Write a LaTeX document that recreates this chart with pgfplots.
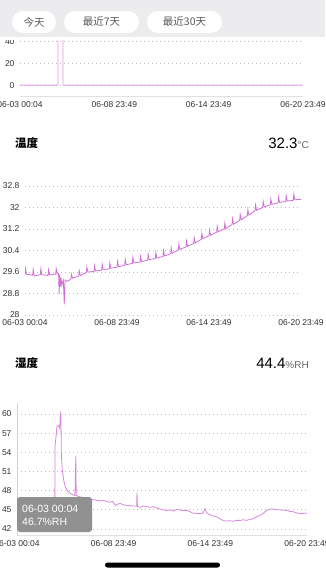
\documentclass[border=0pt]{standalone}
\usepackage{pgfplots}
\pgfplotsset{compat=1.18}
\usepackage{fontspec}
\setmainfont{Liberation Sans}
\newfontfamily\cjk{Noto Sans CJK SC}
\definecolor{hdr}{RGB}{236,236,238}
\definecolor{lineA}{RGB}{222,160,226}
\definecolor{lineB}{RGB}{210,110,215}
\definecolor{lineC}{RGB}{216,135,221}
\definecolor{gridc}{RGB}{185,185,185}
\definecolor{axc}{RGB}{225,225,225}
\definecolor{tickc}{RGB}{50,50,50}
\definecolor{tipc}{RGB}{140,140,140}
\definecolor{crossc}{RGB}{185,222,226}

\pgfplotstableread{
x y
0.00 0
4.83 0
4.85 200
5.45 200
5.47 0
36.00 0
}\tabA

\pgfplotstableread{
x y
0.00 29.50
0.07 29.72
0.20 29.52
1.00 29.48
1.07 29.70
1.20 29.45
2.00 29.50
2.07 29.72
2.20 29.50
3.00 29.47
3.07 29.68
3.20 29.49
4.00 29.52
4.07 29.72
4.20 29.54
4.38 29.55
4.45 28.80
4.52 29.50
4.60 29.05
4.70 29.40
4.80 29.10
5.00 29.30
5.12 28.40
5.22 29.30
5.50 29.25
5.80 29.30
6.00 29.35
6.07 29.52
6.20 29.37
7.00 29.45
7.07 29.65
7.20 29.47
8.00 29.58
8.07 29.78
8.20 29.60
9.00 29.62
9.07 29.84
9.20 29.64
10.00 29.67
10.07 29.89
10.20 29.69
11.00 29.72
11.07 29.94
11.20 29.74
12.00 29.78
12.07 30.00
12.20 29.80
13.00 29.85
13.07 30.07
13.20 29.87
14.00 29.92
14.07 30.14
14.20 29.94
15.00 29.97
15.07 30.19
15.20 29.99
16.00 30.04
16.07 30.26
16.20 30.06
17.00 30.10
17.07 30.32
17.20 30.12
18.00 30.18
18.07 30.40
18.20 30.20
19.00 30.28
19.07 30.50
19.20 30.30
20.00 30.42
20.07 30.64
20.20 30.44
21.00 30.54
21.07 30.76
21.20 30.56
22.00 30.66
22.07 30.88
22.20 30.68
23.00 30.82
23.07 31.04
23.20 30.84
24.00 30.95
24.07 31.17
24.20 30.97
25.00 31.08
25.07 31.30
25.20 31.10
26.00 31.20
26.07 31.42
26.20 31.22
27.00 31.36
27.07 31.58
27.20 31.38
28.00 31.52
28.07 31.74
28.20 31.54
29.00 31.70
29.07 31.92
29.20 31.72
30.00 31.88
30.07 32.10
30.20 31.90
31.00 32.00
31.07 32.22
31.20 32.02
32.00 32.10
32.07 32.32
32.20 32.12
33.00 32.17
33.07 32.39
33.20 32.19
34.00 32.22
34.07 32.44
34.20 32.24
35.00 32.27
35.07 32.49
35.20 32.29
36.00 32.30
}\tabB

\pgfplotstableread{
x y
0.00 46.70
0.30 46.50
0.60 46.60
0.90 46.30
1.00 46.60
1.50 46.50
1.90 46.20
2.00 46.50
2.60 46.40
3.00 46.20
3.10 46.45
3.80 46.30
4.20 46.40
4.60 46.45
4.70 46.30
4.72 55.00
4.85 56.50
4.95 58.00
5.20 58.20
5.30 57.80
5.40 60.00
5.46 59.50
5.50 54.00
5.60 51.50
5.80 49.60
6.00 48.60
6.30 47.90
6.70 47.50
7.20 47.20
7.30 53.40
7.35 47.30
7.60 47.10
8.20 46.90
8.80 46.80
9.00 46.60
9.40 46.60
10.30 46.40
10.80 46.45
11.50 46.20
11.90 46.30
12.20 45.70
12.50 45.90
12.80 46.00
13.20 45.80
13.60 45.70
14.00 45.65
14.40 45.60
14.85 45.60
14.90 47.70
14.95 45.50
15.30 45.40
15.70 45.60
16.10 45.50
16.50 45.40
16.90 45.50
17.30 45.30
17.70 45.15
18.10 45.00
18.60 44.90
19.00 45.00
19.40 44.80
19.80 45.05
20.20 45.00
20.60 44.90
21.10 44.90
21.50 44.70
21.80 44.50
22.20 44.45
22.70 44.40
23.10 44.50
23.35 45.20
23.50 44.60
23.70 44.40
24.20 44.10
24.80 43.90
25.20 43.60
25.60 43.30
26.00 43.25
26.40 43.30
26.80 43.20
27.20 43.35
27.70 43.35
28.10 43.45
28.50 43.35
28.90 43.50
29.30 43.60
29.70 43.90
30.10 44.10
30.50 44.40
31.00 44.90
31.40 45.10
31.80 45.15
32.20 45.00
32.60 45.00
33.00 44.95
33.50 44.90
33.90 44.75
34.30 44.70
34.70 44.55
35.10 44.40
35.50 44.45
36.00 44.50
}\tabC

\pgfplotsset{
  phone/.style={
    scale only axis,
    anchor=south west,
    xmin=0, xmax=36,
    xtick={0,12,24,36},
    xticklabels={06-03 00:04, 06-08 23:49, 06-14 23:49, 06-20 23:49},
    major tick length=0pt,
    ymajorgrids,
    grid style={gridc, line width=0.7pt, dash pattern=on 0.8pt off 3.2pt},
    axis x line*=bottom,
    axis y line*=left,
    x axis line style={axc, line width=0.6pt},
    y axis line style={draw=none},
    tick label style={font=\fontsize{8.5}{10}\selectfont, text=tickc},
    yticklabel style={xshift=-2pt},
    /pgf/number format/assume math mode=true,
    clip=true,
  }
}

\begin{document}
\begin{tikzpicture}
\useasboundingbox (0pt,0pt) rectangle (325pt,-570pt);
\fill[white] (0pt,0pt) rectangle (325pt,-570pt);

% chart 1
\begin{axis}[phone, at={(20pt,-96pt)}, width=283pt, height=65pt,
  ymin=-10, ymax=50, ytick={0,20,40},
  xticklabel style={yshift=-2pt}]
\addplot[lineA, line width=0.9pt] table[x=x,y=y] {\tabA};
\end{axis}

% header
\fill[hdr] (0pt,0pt) rectangle (325pt,-37pt);
\fill[white] (0pt,-37pt) rectangle (325pt,-40.3pt);
\fill[white, rounded corners=11pt] (12pt,-11pt) rectangle (56pt,-33pt);
\fill[white, rounded corners=11pt] (64pt,-11pt) rectangle (139pt,-33pt);
\fill[white, rounded corners=11pt] (147pt,-11pt) rectangle (222pt,-33pt);
\node[text=black!65, font=\cjk\fontsize{10.5}{12}\selectfont] at (34pt,-22pt) {今天};
\node[text=black!65, font=\cjk\fontsize{10.5}{12}\selectfont] at (101.5pt,-22pt) {最近7天};
\node[text=black!65, font=\cjk\fontsize{10.5}{12}\selectfont] at (184.5pt,-22pt) {最近30天};

% chart 2 title
\node[anchor=west, inner sep=0pt, font=\cjk\bfseries\fontsize{11.5}{13}\selectfont] at (15pt,-143pt) {温度};
\node[anchor=base east, inner sep=0pt] at (309pt,-148pt) {{\fontsize{15}{18}\selectfont 32.3}{\color{black!60}\fontsize{10}{12}\selectfont °C}};

% chart 2
\begin{axis}[phone, at={(25pt,-315pt)}, width=276pt, height=129pt,
  ymin=28, ymax=32.8, ytick={28,28.8,29.6,30.4,31.2,32,32.8},
  x axis line style={draw=none},
  xticklabel style={yshift=-1.5pt},
  yticklabel style={/pgf/number format/.cd, fixed, precision=1}]
\addplot[lineB, line width=0.8pt] table[x=x,y=y] {\tabB};
\end{axis}

% chart 3 title
\node[anchor=west, inner sep=0pt, font=\cjk\bfseries\fontsize{11.5}{13}\selectfont] at (15pt,-363pt) {湿度};
\node[anchor=base east, inner sep=0pt] at (309pt,-368pt) {{\fontsize{15}{18}\selectfont 44.4}{\color{black!60}\fontsize{10}{12}\selectfont \%RH}};

% chart 3
\begin{axis}[phone, at={(17pt,-535.4pt)}, width=290pt, height=132.3pt,
  ymin=41, ymax=61.7, ytick={42,45,48,51,54,57,60},
  y axis line style={draw=crossc, line width=0.8pt},
  xticklabel style={yshift=-1.5pt}]
\addplot[lineC, line width=0.8pt] table[x=x,y=y] {\tabC};
\end{axis}

% tooltip
\fill[tipc, opacity=0.95, rounded corners=3pt] (17pt,-497pt) rectangle (92pt,-532pt);
\node[anchor=west, text=white, inner sep=0pt, font=\fontsize{10.5}{12}\selectfont] at (22pt,-509pt) {06-03 00:04};
\node[anchor=west, text=white, inner sep=0pt, font=\fontsize{10.5}{12}\selectfont] at (22pt,-522pt) {46.7\%RH};

% home indicator
\fill[black, rounded corners=2.5pt] (105pt,-562.5pt) rectangle (220pt,-567.5pt);
\end{tikzpicture}
\end{document}
